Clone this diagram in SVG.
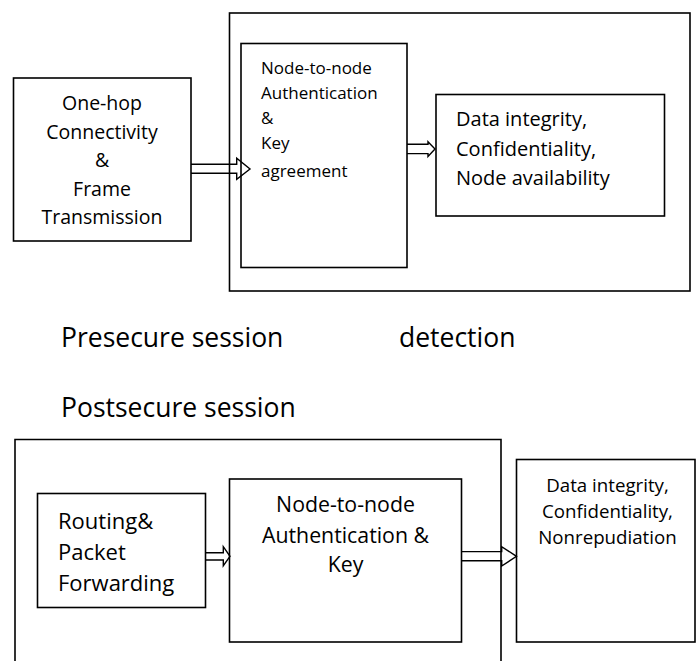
<svg xmlns="http://www.w3.org/2000/svg" width="700" height="661" viewBox="0 0 700 661">
  <style>
    .box { fill: none; stroke: #000; stroke-width: 1.6; }
    .arrow { fill: none; stroke: #000; stroke-width: 1.4; stroke-linejoin: miter; }
    text { font-family: "Open Sans", "Liberation Sans", sans-serif; fill: #000; }
    .c { text-anchor: middle; }
  </style>
  <rect width="700" height="661" fill="#fff"/>

  <!-- Presecure session -->
  <g id="presecure-frame">
    <rect class="box" x="229.5" y="13" width="460.5" height="278"/>
  </g>
  <g id="one-hop">
    <rect class="box" x="13.5" y="78" width="177.5" height="163"/>
    <text class="c" x="102" y="110" font-size="19.5">One-hop</text>
    <text class="c" x="102" y="139" font-size="19.5">Connectivity</text>
    <text class="c" x="102" y="167" font-size="19.5">&amp;</text>
    <text class="c" x="102" y="196" font-size="19.5">Frame</text>
    <text class="c" x="102" y="224" font-size="19.5">Transmission</text>
  </g>
  <g id="auth-pre">
    <rect class="box" x="241" y="43.5" width="166" height="224"/>
    <text x="261" y="74" font-size="17">Node-to-node</text>
    <text x="261" y="98.5" font-size="17">Authentication</text>
    <text x="261" y="123.5" font-size="17">&amp;</text>
    <text x="261" y="148.5" font-size="17">Key</text>
    <text x="261" y="176.5" font-size="17">agreement</text>
  </g>
  <g id="security-pre">
    <rect class="box" x="436" y="94.5" width="228.5" height="121.5"/>
    <text x="456" y="126" font-size="20">Data integrity,</text>
    <text x="456" y="155.5" font-size="20">Confidentiality,</text>
    <text x="456" y="185" font-size="20">Node availability</text>
  </g>

  <!-- Section labels -->
  <g id="labels">
    <text x="61" y="347" font-size="26.5">Presecure session</text>
    <text x="399" y="347" font-size="26.5">detection</text>
    <text x="61" y="417" font-size="26.5">Postsecure session</text>
  </g>

  <!-- Postsecure session -->
  <g id="postsecure-frame">
    <path class="box" d="M15,670 V439.5 H501 V670"/>
  </g>
  <g id="routing">
    <rect class="box" x="37.5" y="493.5" width="168" height="114"/>
    <text x="58" y="528.5" font-size="22">Routing&amp;</text>
    <text x="58" y="560" font-size="22">Packet</text>
    <text x="58" y="590.5" font-size="22">Forwarding</text>
  </g>
  <g id="auth-post">
    <rect class="box" x="229.5" y="479" width="232" height="163"/>
    <text class="c" x="345.5" y="511.5" font-size="21.3">Node-to-node</text>
    <text class="c" x="345.5" y="543" font-size="21.3">Authentication &amp;</text>
    <text class="c" x="345.5" y="572" font-size="21.3">Key</text>
  </g>
  <g id="security-post">
    <rect class="box" x="516.5" y="459.5" width="178.5" height="182.5"/>
    <text class="c" x="607.5" y="491.5" font-size="18.7">Data integrity,</text>
    <text class="c" x="607.5" y="518" font-size="18.7">Confidentiality,</text>
    <text class="c" x="607.5" y="543.5" font-size="18.7">Nonrepudiation</text>
  </g>

  <!-- Block arrows between stages -->
  <g id="connectors">
    <path class="arrow" d="M191,164.3 H236.7 V158.3 L250,169 L236.7,179.3 V173.3 H191"/>
    <path class="arrow" d="M407,144.2 H428 V141.7 L435,149 L428,156.5 V153.6 H407"/>
    <path class="arrow" d="M205.7,552.7 H223.3 V546.7 L230,556.3 L223.3,565.7 V560 H205.7"/>
    <path class="arrow" d="M461.7,551.6 H501.7 V546.7 L516.5,556.3 L501.7,566 V560.8 H461.7"/>
  </g>
</svg>
